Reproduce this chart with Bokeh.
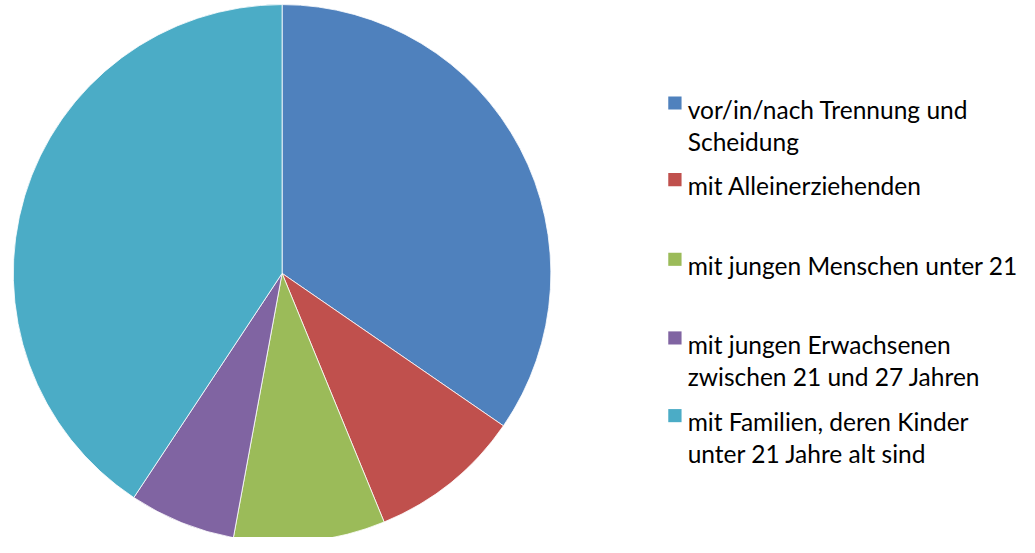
import math
from bokeh.plotting import figure
from bokeh.models import Range1d, ColumnDataSource
from bokeh.core.properties import value
from bokeh.embed import file_html
from bokeh.resources import INLINE

# ---- data ----
categories = [
    "vor/in/nach Trennung und\nScheidung",
    "mit Alleinerziehenden",
    "mit jungen Menschen unter 21",
    "mit jungen Erwachsenen\nzwischen 21 und 27 Jahren",
    "mit Familien, deren Kinder\nunter 21 Jahre alt sind",
]
shares = [34.6, 9.2, 9.1, 6.4, 40.7]
colors = ["#4F81BD", "#C0504D", "#9BBB59", "#8064A2", "#4BACC6"]

W, H = 1019, 537          # canvas size (fits window with 8px margin)
RW, RH = 1035, 553        # reference layout units
FONT = "Lato"

def sx(x):
    return x

def sy(y):
    return RH - y

p = figure(width=W, height=H, output_backend="svg", toolbar_location=None,
           x_range=Range1d(0, RW), y_range=Range1d(0, RH), min_border=0)
p.axis.visible = False
p.grid.visible = False
p.outline_line_color = None
p.background_fill_color = "white"
p.border_fill_color = "white"

# pie
total = sum(shares)
starts, ends = [], []
acc = 0.0
for s in shares:
    starts.append(math.pi / 2 - acc / total * 2 * math.pi)
    acc += s
    ends.append(math.pi / 2 - acc / total * 2 * math.pi)
src = ColumnDataSource(dict(start=starts, end=ends, color=colors,
                            cat=categories, share=shares))
p.wedge(x=sx(286), y=sy(281), radius=273, start_angle="start", end_angle="end",
        direction="clock", fill_color="color", line_color="white",
        line_width=0.8, source=src)

# legend
baselines = [112, 191, 273, 354, 434]
line_gap = 33
tx, ty, tt = [], [], []
rx, ry, rc = [], [], []
for cat, col, b in zip(categories, colors, baselines):
    rx.append(sx(685))
    ry.append(sy(b - 6.5))
    rc.append(col)
    for i, line in enumerate(cat.split("\n")):
        tx.append(sx(698))
        ty.append(sy(b + i * line_gap))
        tt.append(line)
p.rect(x=rx, y=ry, width=13.5, height=13.5, fill_color=rc, line_color=None)
p.text(x=tx, y=ty, text=tt, text_font=value(FONT), text_font_size="24.5px",
       text_baseline="alphabetic", text_align="left", text_color="#000000")

open("out.html", "w").write(file_html(p, INLINE))
